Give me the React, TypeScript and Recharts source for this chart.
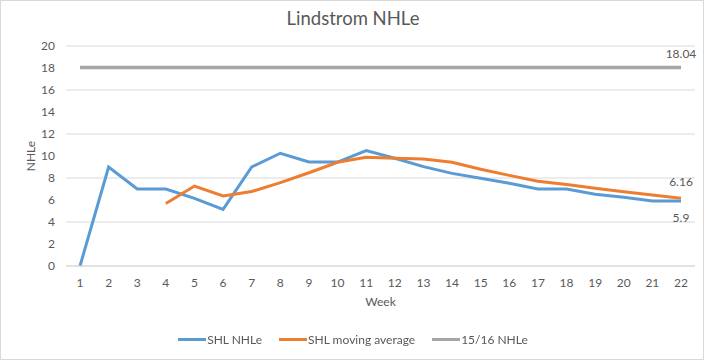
import React from "react";
import { LineChart, Line, XAxis, YAxis, CartesianGrid } from "recharts";

const weeks = [1, 2, 3, 4, 5, 6, 7, 8, 9, 10, 11, 12, 13, 14, 15, 16, 17, 18, 19, 20, 21, 22];
const shlNhle = [0, 9, 7, 7, 6.15, 5.15, 9, 10.25, 9.45, 9.45, 10.5, 9.8, 9.03, 8.42, 7.97, 7.52, 7.0, 7.0, 6.52, 6.24, 5.9, 5.9];
const movingAvg = [null, null, null, 5.68, 7.27, 6.36, 6.77, 7.58, 8.48, 9.43, 9.88, 9.8, 9.72, 9.43, 8.8, 8.24, 7.7, 7.4, 7.06, 6.74, 6.45, 6.16];
const prevSeason = 18.04;
const yTicks = [0, 2, 4, 6, 8, 10, 12, 14, 16, 18, 20];

const BLUE = "#5B9BD5";
const ORANGE = "#ED7D31";
const GRAY = "#A5A5A5";
const TEXT = "#595959";
const FONT = "Lato, 'Liberation Sans', sans-serif";

const data = weeks.map((w, i) => ({
  week: w,
  shl: shlNhle[i],
  avg: movingAvg[i],
  prev: prevSeason,
}));

const lastLabel = (dy: number) => (props: any) => {
  const { x, y, value, index } = props;
  if (index !== weeks.length - 1) return null;
  return (
    <text x={x} y={y + dy} textAnchor="middle" fill={TEXT} fontSize={12} fontFamily={FONT}>
      {value}
    </text>
  );
};

const legendItems = [
  { name: "SHL NHLe", color: BLUE },
  { name: "SHL moving average", color: ORANGE },
  { name: "15/16 NHLe", color: GRAY },
];

const App = () => {
  return (
    <div
      style={{
        position: "fixed",
        left: 0,
        top: 0,
        width: 704,
        height: 360,
        background: "#fff",
        border: "1px solid #d9d9d9",
        boxSizing: "border-box",
        fontFamily: FONT,
      }}
    >
      <div
        style={{
          position: "absolute",
          top: 6,
          left: 0,
          width: 704,
          textAlign: "center",
          fontSize: 18.5,
          color: TEXT,
        }}
      >
        Lindstrom NHLe
      </div>
      <div style={{ position: "absolute", left: -1, top: -1 }}>
        <LineChart width={704} height={360} data={data} margin={{ top: 46, right: 9, bottom: 54, left: 26 }}>
          <CartesianGrid vertical={false} stroke="#d9d9d9" />
          <XAxis
            dataKey="week"
            padding={{ left: 14, right: 14 }}
            axisLine={{ stroke: "#d9d9d9" }}
            tickLine={false}
            tick={{ fill: TEXT, fontSize: 12, fontFamily: FONT }}
            tickMargin={6}
            height={40}
            interval={0}
            label={{ value: "Week", position: "insideBottom", offset: 0, fill: TEXT, fontSize: 12, fontFamily: FONT }}
          />
          <YAxis
            domain={[0, 20]}
            ticks={yTicks}
            width={40}
            axisLine={false}
            tickLine={false}
            tickSize={8}
            tickMargin={3}
            tick={{ fill: TEXT, fontSize: 12, fontFamily: FONT }}
            label={{
              value: "NHLe",
              angle: -90,
              position: "insideLeft",
              offset: 5,
              fill: TEXT,
              fontSize: 12,
              fontFamily: FONT,
              style: { textAnchor: "middle" },
            }}
          />
          <Line dataKey="shl" stroke={BLUE} strokeWidth={3} dot={false} isAnimationActive={false} label={lastLabel(21)} />
          <Line dataKey="avg" stroke={ORANGE} strokeWidth={3} dot={false} isAnimationActive={false} label={lastLabel(-12)} />
          <Line dataKey="prev" stroke={GRAY} strokeWidth={3.5} dot={false} isAnimationActive={false} label={lastLabel(-10)} />
        </LineChart>
      </div>
      <div
        style={{
          position: "absolute",
          top: 331,
          left: 0,
          width: 704,
          display: "flex",
          justifyContent: "center",
          gap: 17,
          fontSize: 12,
          color: TEXT,
        }}
      >
        {legendItems.map((it) => (
          <div key={it.name} style={{ display: "flex", alignItems: "center" }}>
            <div style={{ width: 28, height: 3, background: it.color, marginRight: 1 }} />
            <span>{it.name}</span>
          </div>
        ))}
      </div>
    </div>
  );
};

export default App;
